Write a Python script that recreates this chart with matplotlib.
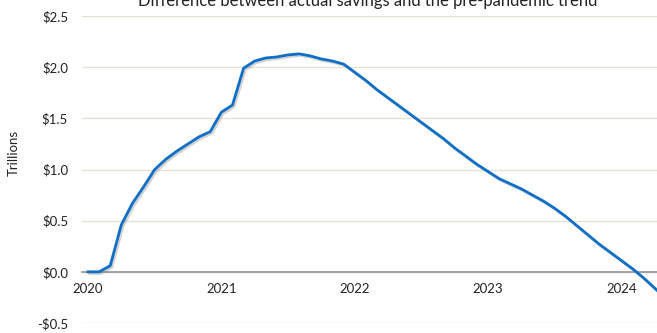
import matplotlib
matplotlib.use("Agg")
import matplotlib.pyplot as plt
import matplotlib.patheffects as pe
import numpy as np

plt.rcParams['font.family'] = ['Lato', 'DejaVu Sans']

# Monthly excess savings vs. pre-pandemic trend, trillions of dollars (Jan 2020 onward)
excess_savings = [
    0.00, 0.00, 0.06, 0.46, 0.67, 0.83, 1.00, 1.10, 1.18, 1.25, 1.32, 1.37,   # 2020
    1.56, 1.63, 1.99, 2.06, 2.09, 2.10, 2.12, 2.13, 2.11, 2.08, 2.06, 2.03,   # 2021
    1.95, 1.87, 1.78, 1.70, 1.62, 1.54, 1.46, 1.38, 1.30, 1.21, 1.13, 1.05,   # 2022
    0.98, 0.91, 0.86, 0.81, 0.75, 0.69, 0.62, 0.54, 0.45, 0.36, 0.27, 0.19,   # 2023
    0.11, 0.03, -0.06, -0.16, -0.26,                                          # 2024
]
year_labels = ["2020", "2021", "2022", "2023", "2024"]
y_ticks = [-0.5, 0.0, 0.5, 1.0, 1.5, 2.0, 2.5]

months = np.arange(len(excess_savings))

fig = plt.figure(figsize=(6.57, 3.33), dpi=100)
ax = fig.add_axes([82 / 657, 10 / 333, 1 - 82 / 657, 307 / 333])

ax.set_ylim(-0.5, 2.5)
ax.set_xlim(-0.54, 51.2)

ax.set_yticks(y_ticks)
ax.set_yticklabels([f"-${abs(v):.1f}" if v < 0 else f"${v:.1f}" for v in y_ticks])
ax.set_xticks(np.arange(len(year_labels)) * 12)
ax.set_xticklabels(year_labels)

ax.grid(axis='y', color='#e6e2d3', linewidth=1.0)
ax.set_axisbelow(True)
for side in ['left', 'right', 'top']:
    ax.spines[side].set_visible(False)
ax.spines['bottom'].set_position(('data', 0))
ax.spines['bottom'].set_color('#8c8c8c')
ax.spines['bottom'].set_linewidth(1.1)

ax.tick_params(axis='both', length=0, labelsize=9.5, labelcolor='#222222')
ax.tick_params(axis='y', pad=10)
ax.tick_params(axis='x', pad=8)

ax.plot(months, excess_savings, color='#0f6fc6', linewidth=2.0, solid_joinstyle='round',
        path_effects=[pe.SimpleLineShadow(offset=(1.2, -1.2), shadow_color='#808080', alpha=0.35),
                      pe.Normal()], zorder=3)

fig.text(14 / 657, (333 - 153) / 333, "Trillions", rotation=90, ha='center', va='center',
         fontsize=9.5, color='#222222')
fig.text(368 / 657, (333 - 6) / 333, "Difference between actual savings and the pre-pandemic trend",
         ha='center', va='baseline', fontsize=12, color='#222222')

fig.savefig("out.png", dpi=100)
